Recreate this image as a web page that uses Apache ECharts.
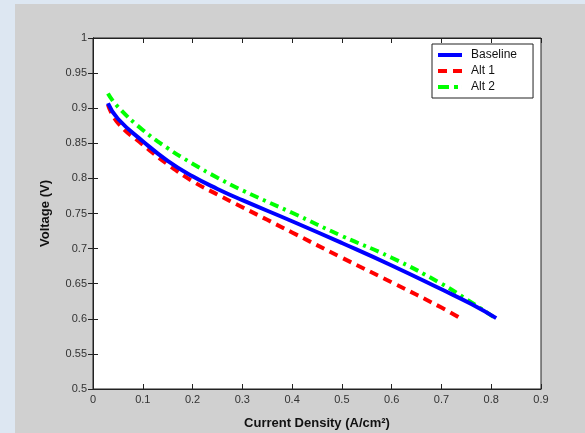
<!DOCTYPE html>
<html>
<head>
<meta charset="utf-8">
<script src="https://cdn.jsdelivr.net/npm/echarts@6/dist/echarts.min.js"></script>
<style>
html,body{margin:0;padding:0;background:#dde7f2;}
#c{width:585px;height:433px;}
</style>
</head>
<body>
<div id="c"></div>
<script>
const seriesNames = ["Baseline", "Alt 1", "Alt 2"];
const baselineX = [0.03, 0.05, 0.10, 0.15, 0.20, 0.25, 0.30, 0.40, 0.50, 0.60, 0.70, 0.76, 0.81];
const baselineY = [0.907, 0.885, 0.853, 0.825, 0.803, 0.785, 0.769, 0.739, 0.708, 0.676, 0.642, 0.621, 0.601];
const alt1X = [0.03, 0.05, 0.10, 0.15, 0.20, 0.25, 0.30, 0.40, 0.50, 0.60, 0.70, 0.735];
const alt1Y = [0.905, 0.879, 0.848, 0.820, 0.796, 0.777, 0.759, 0.723, 0.687, 0.652, 0.616, 0.602];
const alt2X = [0.03, 0.05, 0.10, 0.15, 0.20, 0.25, 0.30, 0.40, 0.50, 0.60, 0.70, 0.75, 0.81];
const alt2Y = [0.921, 0.902, 0.869, 0.843, 0.821, 0.801, 0.783, 0.751, 0.718, 0.687, 0.650, 0.628, 0.600];
const xTickLabels = ["0", "0.1", "0.2", "0.3", "0.4", "0.5", "0.6", "0.7", "0.8", "0.9"];
const yTickLabels = ["0.5", "0.55", "0.6", "0.65", "0.7", "0.75", "0.8", "0.85", "0.9", "0.95", "1"];

function pairs(xs, ys) { return xs.map((x, i) => [x, ys[i]]); }
const font = "'Liberation Sans', Arial, sans-serif";
const chart = echarts.init(document.getElementById('c'), null, {renderer: 'canvas'});
const tickStyle = {show: true, inside: true, length: 5, lineStyle: {color: '#222'}};
const axisLineStyle = {show: true, lineStyle: {color: '#222', width: 1}};
const labelStyle = {color: '#333', fontSize: 11, fontFamily: font};
const legendIcons = [
  'path://M0,0h24v4h-24z',
  'path://M0,0h9v4h-9zM15,0h9v4h-9z',
  'path://M0,0h11v4h-11zM16,0h4v4h-4zM24,0h0.01v4h-0.01z'
];
chart.setOption({
  backgroundColor: '#dde7f2',
  animation: false,
  graphic: [{type: 'rect', left: 15, top: 4, shape: {width: 570, height: 429}, style: {fill: '#d0d0d0'}, z: -10}],
  grid: {left: 93, top: 38, width: 448, height: 351, show: true, backgroundColor: '#ffffff', borderColor: '#222', borderWidth: 1,
         outerBoundsMode: 'none', containLabel: false},
  legend: {
    data: seriesNames.map((n, i) => ({name: n, icon: legendIcons[i]})),
    orient: 'vertical', left: 432, top: 44,
    backgroundColor: '#ffffff', borderColor: '#222', borderWidth: 1,
    padding: [5, 16, 5, 6], itemGap: 4, itemWidth: 24, itemHeight: 4,
    textStyle: {color: '#111', fontSize: 12, fontFamily: font, padding: [0, 0, 0, 4]}
  },
  xAxis: [{
    type: 'value', min: 0, max: 0.9, interval: 0.1, position: 'bottom',
    axisLine: axisLineStyle, axisTick: tickStyle, splitLine: {show: false},
    axisLabel: Object.assign({margin: 5, formatter: (v) => xTickLabels[Math.round(v * 10)]}, labelStyle),
    name: 'Current Density (A/cm²)', nameLocation: 'middle', nameGap: 28,
    nameTextStyle: {color: '#111', fontSize: 13, fontWeight: 'bold', fontFamily: font}
  }, {
    type: 'value', min: 0, max: 0.9, interval: 0.1, position: 'top',
    axisLine: axisLineStyle, axisTick: tickStyle, splitLine: {show: false}, axisLabel: {show: false}
  }],
  yAxis: [{
    type: 'value', min: 0.5, max: 1, interval: 0.05, position: 'left',
    axisLine: axisLineStyle, axisTick: tickStyle, splitLine: {show: false},
    axisLabel: Object.assign({margin: 6, formatter: (v) => yTickLabels[Math.round((v - 0.5) * 20)]}, labelStyle),
    name: 'Voltage (V)', nameLocation: 'middle', nameGap: 41, nameRotate: 90,
    nameTextStyle: {color: '#111', fontSize: 13, fontWeight: 'bold', fontFamily: font}
  }, {
    type: 'value', min: 0.5, max: 1, interval: 0.05, position: 'right',
    axisLine: axisLineStyle, axisTick: tickStyle, splitLine: {show: false}, axisLabel: {show: false}
  }],
  series: [
    {name: seriesNames[0], type: 'line', data: pairs(baselineX, baselineY), smooth: 0.5, showSymbol: false, symbol: 'none',
     lineStyle: {color: '#0000ff', width: 4, type: 'solid'}, itemStyle: {color: '#0000ff'}, z: 3},
    {name: seriesNames[1], type: 'line', data: pairs(alt1X, alt1Y), smooth: 0.5, showSymbol: false, symbol: 'none',
     lineStyle: {color: '#ff0000', width: 4, type: [9, 6]}, itemStyle: {color: '#ff0000'}, z: 2},
    {name: seriesNames[2], type: 'line', data: pairs(alt2X, alt2Y), smooth: 0.5, showSymbol: false, symbol: 'none',
     lineStyle: {color: '#00ff00', width: 4, type: [9, 5, 3, 5]}, itemStyle: {color: '#00ff00'}, z: 1}
  ]
});
</script>
</body>
</html>
